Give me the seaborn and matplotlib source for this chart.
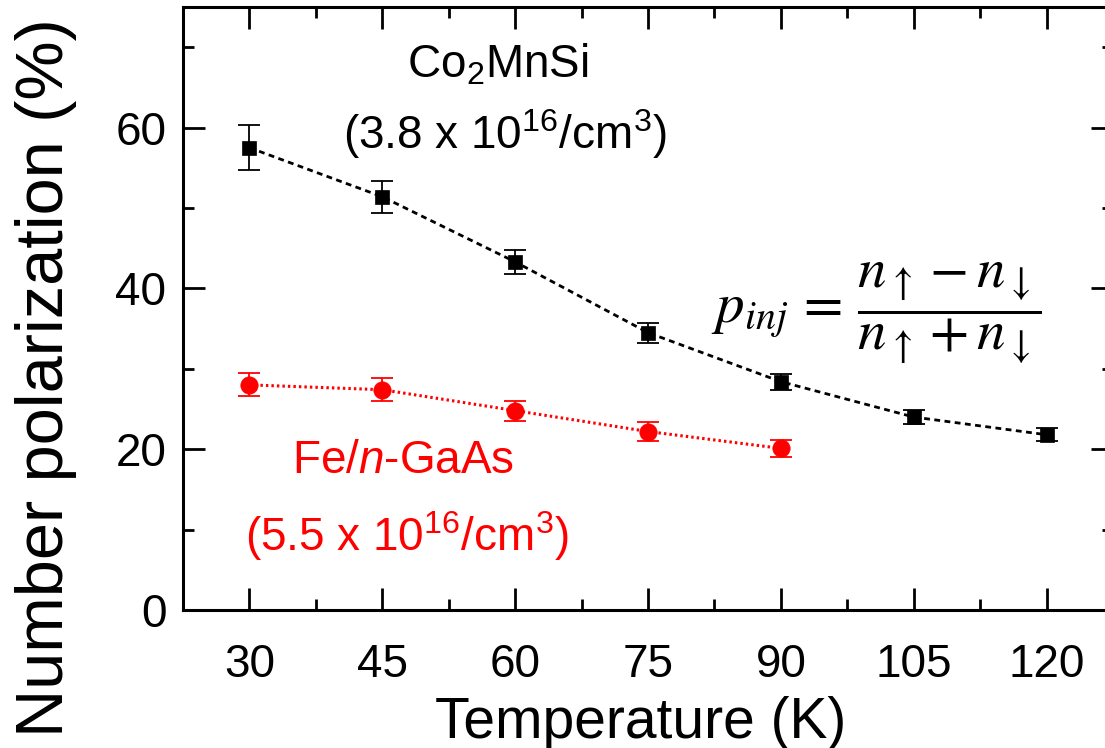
import matplotlib
matplotlib.use("Agg")
import matplotlib.pyplot as plt
from matplotlib.ticker import MultipleLocator
import seaborn as sns
import pandas as pd

# Temperatures (K)
temp_co2mnsi = [30, 45, 60, 75, 90, 105, 120]
temp_fe = [30, 45, 60, 75, 90]

# Number polarization (%) with uncertainties
pol_co2mnsi = [57.5, 51.4, 43.3, 34.5, 28.4, 24.0, 21.8]
err_co2mnsi = [2.8, 2.0, 1.45, 1.25, 1.0, 0.87, 0.8]
pol_fe = [28.0, 27.4, 24.8, 22.2, 20.1]
err_fe = [1.43, 1.4, 1.25, 1.15, 1.04]

x_ticks = [30, 45, 60, 75, 90, 105, 120]
y_ticks = [0, 20, 40, 60]

sns.set_theme(style="ticks")
plt.rcParams["font.family"] = ["Liberation Sans", "DejaVu Sans"]
plt.rcParams["mathtext.fontset"] = "custom"
plt.rcParams["mathtext.rm"] = "Liberation Sans"
plt.rcParams["mathtext.it"] = "Liberation Sans:italic"
for key in ["text.color", "axes.labelcolor", "xtick.color", "ytick.color",
            "axes.edgecolor"]:
    plt.rcParams[key] = "black"

fig = plt.figure(figsize=(11.05, 7.48), dpi=100)
ax = fig.add_axes([183 / 1105, 138 / 748, (1113 - 183) / 1105, (741 - 138) / 748])

df_c = pd.DataFrame({"T": temp_co2mnsi, "P": pol_co2mnsi})
df_f = pd.DataFrame({"T": temp_fe, "P": pol_fe})

sns.lineplot(data=df_c, x="T", y="P", ax=ax, color="black", lw=2.0,
             linestyle=(0, (2.1, 1.6)), marker="s", markersize=10,
             markeredgecolor="black", markeredgewidth=0.5, zorder=3)
ax.errorbar(temp_co2mnsi, pol_co2mnsi, yerr=err_co2mnsi, fmt="none",
            ecolor="black", elinewidth=1.3, capsize=8, capthick=1.3, zorder=2)

sns.lineplot(data=df_f, x="T", y="P", ax=ax, color="red", lw=2.2,
             linestyle=(0, (0.8, 1.0)), marker="o", markersize=12.5,
             markeredgecolor="red", markeredgewidth=0.5, zorder=3)
ax.errorbar(temp_fe, pol_fe, yerr=err_fe, fmt="none",
            ecolor="red", elinewidth=1.3, capsize=8, capthick=1.3, zorder=2)

ax.set_xlim(22.5, 127.5)
ax.set_ylim(0, 75)
ax.set_xticks(x_ticks)
ax.set_yticks(y_ticks)
ax.xaxis.set_minor_locator(MultipleLocator(7.5))
ax.yaxis.set_minor_locator(MultipleLocator(10))

for side in ["left", "right", "top", "bottom"]:
    ax.spines[side].set_visible(True)
    ax.spines[side].set_linewidth(2.2)
    ax.spines[side].set_color("black")

ax.tick_params(which="both", direction="in", top=True, right=True,
               color="black", labelcolor="black", width=2.0)
ax.tick_params(which="major", length=16, labelsize=33)
ax.tick_params(which="minor", length=8)
ax.tick_params(axis="x", which="major", pad=24)
ax.tick_params(axis="y", which="major", pad=12)

ax.set_xlabel("Temperature (K)", fontsize=41)
ax.xaxis.set_label_coords(0.4925, -0.142)
ax.xaxis.label.set_va("top")

ax.set_ylabel("Number polarization (%)", fontsize=48)
ax.yaxis.set_label_coords(-0.147, 0.385)
ax.yaxis.label.set_va("center")

ax.text(58.0, 67.8, r"Co$_{\mathregular{2}}$MnSi", fontsize=33,
        ha="center", va="center")
ax.text(58.8, 59.2, r"(3.8 x 10$^{\mathregular{16}}$/cm$^{\mathregular{3}}$)",
        fontsize=33, ha="center", va="center")
ax.text(47.4, 18.5, r"Fe/$n$-GaAs", fontsize=33,
        ha="center", va="center", color="red")
ax.text(47.8, 9.2, r"(5.5 x 10$^{\mathregular{16}}$/cm$^{\mathregular{3}}$)",
        fontsize=33, ha="center", va="center", color="red")

ax.text(100.8, 37.0,
        r"$p_{inj}\, =\, \dfrac{n_{\uparrow} - n_{\downarrow}}{n_{\uparrow} + n_{\downarrow}}$",
        fontsize=41, ha="center", va="center",
        math_fontfamily="stix")

fig.savefig("out.png", dpi=100)
